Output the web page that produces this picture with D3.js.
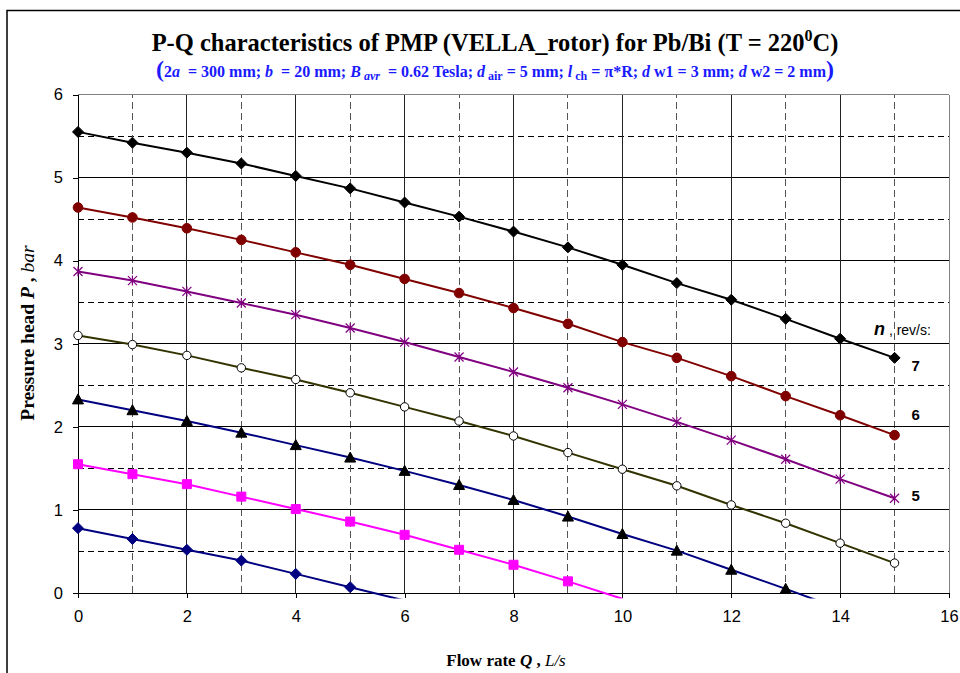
<!DOCTYPE html>
<html>
<head>
<meta charset="utf-8">
<script src="https://cdn.jsdelivr.net/npm/d3@7"></script>
<style>
  html, body { margin: 0; padding: 0; background: #fff; }
  svg { display: block; }
</style>
</head>
<body>
<svg id="chart" width="960" height="673"></svg>
<script>
// ---------------- data ----------------
const flow = [0, 1, 2, 3, 4, 5, 6, 7, 8, 9, 10, 11, 12, 13, 14, 15];
const xTicks = [0, 2, 4, 6, 8, 10, 12, 14, 16];
const yTicks = [0, 1, 2, 3, 4, 5, 6];

const n7 = [5.55, 5.42, 5.30, 5.17, 5.02, 4.87, 4.70, 4.53, 4.35, 4.16, 3.95, 3.73, 3.53, 3.30, 3.06, 2.83];
const n6 = [4.64, 4.52, 4.39, 4.25, 4.10, 3.95, 3.78, 3.61, 3.43, 3.24, 3.02, 2.83, 2.61, 2.37, 2.14, 1.90];
const n5 = [3.87, 3.76, 3.63, 3.49, 3.35, 3.19, 3.02, 2.84, 2.66, 2.47, 2.27, 2.06, 1.84, 1.61, 1.37, 1.14];
const n4 = [3.10, 2.99, 2.86, 2.71, 2.57, 2.41, 2.24, 2.07, 1.89, 1.69, 1.49, 1.29, 1.06, 0.84, 0.60, 0.36];
const n3 = [2.33, 2.20, 2.07, 1.93, 1.78, 1.63, 1.47, 1.30, 1.12, 0.92, 0.71, 0.51, 0.28, 0.05, -0.19];
const n2 = [1.55, 1.43, 1.31, 1.16, 1.01, 0.86, 0.70, 0.52, 0.34, 0.14, -0.07];
const n1 = [0.78, 0.65, 0.52, 0.39, 0.23, 0.07, -0.09];

const seriesNames = ["7", "6", "5", "4", "3", "2", "1"];
const seriesValues = [n7, n6, n5, n4, n3, n2, n1];
const lineColors = ["#000000", "#800000", "#800080", "#333300", "#000080", "#FF00FF", "#000080"];
const markerShapes = ["diamond", "circle", "star", "ocircle", "triangle", "square", "diamond"];
const markerFills = ["#000000", "#800000", "none", "#ffffff", "#000000", "#FF00FF", "#000080"];
const markerStrokes = ["#000000", "#800000", "#800080", "#000000", "#000000", "#FF00FF", "#000080"];
const labelledSeries = ["7", "6", "5"];
const labelOffsets = [13, -15, 3];

// ---------------- layout ----------------
const svg = d3.select("#chart");
const x = d3.scaleLinear().domain([0, 16]).range([78, 949]);
const y = d3.scaleLinear().domain([0, 6]).range([593, 94.5]);
const serif = "'Liberation Serif', 'Times New Roman', serif";
const sans = "'Liberation Sans', Arial, sans-serif";

// outer frame
svg.append("rect")
  .attr("x", 7).attr("y", 10.5).attr("width", 1000).attr("height", 700)
  .attr("fill", "none").attr("stroke", "#000").attr("stroke-width", 1.5);

// title
const title = svg.append("text")
  .attr("x", 495).attr("y", 51)
  .attr("text-anchor", "middle")
  .attr("font-family", serif)
  .attr("font-weight", "bold").attr("font-size", 24.5).attr("fill", "#000");
title.append("tspan").text("P-Q characteristics of PMP (VELLA_rotor) for Pb/Bi (T = 220");
title.append("tspan").attr("font-size", 16).attr("dy", -10).text("0");
title.append("tspan").attr("dy", 10).text("C)");

// subtitle
const sub = svg.append("text")
  .attr("x", 495).attr("y", 77)
  .attr("text-anchor", "middle")
  .attr("font-family", serif)
  .attr("font-weight", "bold").attr("font-size", 16).attr("fill", "#1a1aff");
const subParts = [
  ["(", {size: 24}],
  ["2", {}], ["a", {it: true}], ["  = 300 mm; ", {}],
  ["b", {it: true}], ["  = 20 mm; ", {}],
  ["B", {it: true}], [" avr", {it: true, subs: true}], ["  = 0.62 Tesla; ", {}],
  ["d", {it: true}], [" air", {subs: true}], [" = 5 mm; ", {}],
  ["l", {it: true}], [" ch", {subs: true}], [" = ", {}], ["π", {}], ["*R; ", {}],
  ["d", {it: true}], [" w1 = 3 mm; ", {}],
  ["d", {it: true}], [" w2 = 2 mm", {}],
  [")", {size: 24}]
];
let prevSub = false;
subParts.forEach(([t, o]) => {
  const ts = sub.append("tspan").text(t).style("white-space", "pre");
  if (o.it) ts.attr("font-style", "italic");
  if (o.size) ts.attr("font-size", o.size);
  if (o.subs) { ts.attr("font-size", 12); if (!prevSub) ts.attr("dy", 3); prevSub = true; }
  else if (prevSub) { ts.attr("dy", -3); prevSub = false; }
});

// clip
svg.append("defs").append("clipPath").attr("id", "plotClip")
  .append("rect").attr("x", x(0) - 6).attr("y", y(6) - 6)
  .attr("width", x(16) - x(0) + 12).attr("height", y(0) - y(6) + 11.5);

// grid
const grid = svg.append("g").attr("shape-rendering", "crispEdges");
const halfY = d3.range(0.5, 6, 1);
const oddX = d3.range(1, 16, 2);
grid.selectAll(".hd").data(halfY).join("line")
  .attr("x1", x(0)).attr("x2", x(16)).attr("y1", d => y(d)).attr("y2", d => y(d))
  .attr("stroke", "#000").attr("stroke-dasharray", "6,4");
grid.selectAll(".vd").data(oddX).join("line")
  .attr("y1", y(0)).attr("y2", y(6)).attr("x1", d => x(d)).attr("x2", d => x(d))
  .attr("stroke", "#555").attr("stroke-dasharray", "7,4");
grid.selectAll(".hs").data(yTicks.filter(d => d > 0 && d < 6)).join("line")
  .attr("x1", x(0)).attr("x2", x(16)).attr("y1", d => y(d)).attr("y2", d => y(d))
  .attr("stroke", "#000");
grid.selectAll(".vs").data(xTicks.filter(d => d > 0 && d < 16)).join("line")
  .attr("y1", y(0)).attr("y2", y(6)).attr("x1", d => x(d)).attr("x2", d => x(d))
  .attr("stroke", "#222");
grid.append("line").attr("x1", x(0)).attr("x2", x(16)).attr("y1", y(6)).attr("y2", y(6)).attr("stroke", "#808080");
grid.append("line").attr("x1", x(16)).attr("x2", x(16)).attr("y1", y(6)).attr("y2", y(0)).attr("stroke", "#808080");

// axes
const yAxis = svg.append("g").attr("transform", `translate(${x(0)},0)`)
  .call(d3.axisLeft(y).tickValues(yTicks).tickSize(5).tickSizeOuter(0).tickPadding(10).tickFormat(d3.format("d")));
const xAxis = svg.append("g").attr("transform", `translate(0,${y(0)})`)
  .call(d3.axisBottom(x).tickValues(xTicks).tickSize(5).tickSizeOuter(0).tickPadding(12).tickFormat(d3.format("d")));
[xAxis, yAxis].forEach(a => {
  a.select(".domain").attr("stroke", "#000").attr("shape-rendering", "crispEdges");
  a.selectAll(".tick line").attr("stroke", "#000").attr("shape-rendering", "crispEdges");
  a.selectAll(".tick text").attr("font-family", sans).attr("font-size", 16.5).attr("fill", "#000");
});
yAxis.select(".domain").attr("d", `M0,${y(6)}V${y(0)}`);
xAxis.select(".domain").attr("d", `M${x(0)},0H${x(16)}`);

// series
const plot = svg.append("g").attr("clip-path", "url(#plotClip)");
const line = d3.line().x((d, i) => x(flow[i])).y(d => y(d));

function markerPath(shape) {
  const p = d3.path();
  if (shape === "diamond") { p.moveTo(0, -5.5); p.lineTo(5.5, 0); p.lineTo(0, 5.5); p.lineTo(-5.5, 0); p.closePath(); }
  else if (shape === "square") { p.rect(-4.5, -4.5, 9, 9); }
  else if (shape === "triangle") { p.moveTo(0, -5.5); p.lineTo(5.5, 4.5); p.lineTo(-5.5, 4.5); p.closePath(); }
  else if (shape === "circle") { p.arc(0, 0, 4.8, 0, 2 * Math.PI); }
  else if (shape === "ocircle") { p.arc(0, 0, 4.2, 0, 2 * Math.PI); }
  else if (shape === "star") { p.moveTo(-4.5, -4.5); p.lineTo(4.5, 4.5); p.moveTo(-4.5, 4.5); p.lineTo(4.5, -4.5); p.moveTo(0, -5); p.lineTo(0, 5); }
  return p.toString();
}

seriesValues.forEach((vals, si) => {
  const g = plot.append("g");
  g.append("path").datum(vals).attr("d", line)
    .attr("fill", "none").attr("stroke", lineColors[si]).attr("stroke-width", 2);
  const pts = vals.map((v, i) => ({q: flow[i], v})).filter(d => d.v >= 0);
  g.selectAll("path.m").data(pts).join("path").attr("class", "m")
    .attr("transform", d => `translate(${x(d.q)},${y(d.v)})`)
    .attr("d", markerPath(markerShapes[si]))
    .attr("fill", markerFills[si])
    .attr("stroke", markerStrokes[si])
    .attr("stroke-width", markerShapes[si] === "star" ? 1.2 : 1);
});

// labels at right
const lbl = svg.append("g").attr("font-family", sans);
const nt = lbl.append("text").attr("x", 874).attr("y", 335);
nt.append("tspan").attr("font-weight", "bold").attr("font-style", "italic").attr("font-size", 18).text("n");
nt.append("tspan").attr("font-size", 14).text(" , rev/s:");
labelledSeries.forEach((name, li) => {
  const si = seriesNames.indexOf(name);
  const vals = seriesValues[si];
  const last = vals[vals.length - 1];
  lbl.append("text")
    .attr("x", x(flow[vals.length - 1]) + 17)
    .attr("y", y(last) + labelOffsets[li])
    .attr("font-weight", "bold").attr("font-size", 15).attr("fill", "#000")
    .text(name);
});

// axis titles
const yt = svg.append("text")
  .attr("transform", `translate(34,333) rotate(-90)`)
  .attr("text-anchor", "middle").attr("font-family", serif).attr("font-size", 19.5).attr("font-weight", "bold");
yt.append("tspan").text("Pressure head ");
yt.append("tspan").attr("font-style", "italic").text("P");
yt.append("tspan").text(" ,  ");
yt.append("tspan").attr("font-style", "italic").attr("font-weight", "normal").text("bar");

const xt = svg.append("text")
  .attr("x", 506).attr("y", 666)
  .attr("text-anchor", "middle").attr("font-family", serif).attr("font-size", 17).attr("font-weight", "bold");
xt.append("tspan").text("Flow rate ");
xt.append("tspan").attr("font-style", "italic").text("Q");
xt.append("tspan").text(" , ");
xt.append("tspan").attr("font-style", "italic").attr("font-weight", "normal").text("L/s");
</script>
</body>
</html>
